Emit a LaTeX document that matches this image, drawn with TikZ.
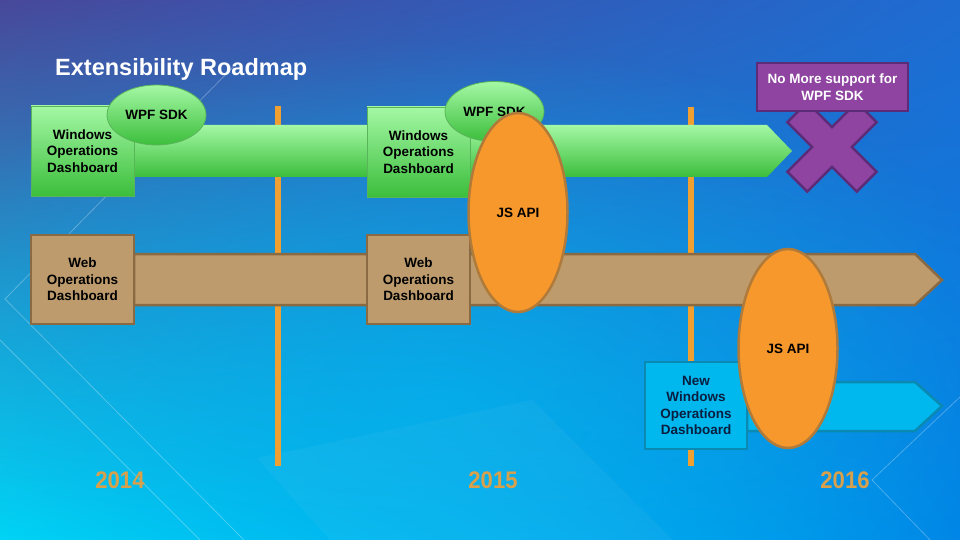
\documentclass[tikz,border=0pt]{standalone}
\usepackage{fontspec}
\setmainfont{Liberation Sans}
\usetikzlibrary{shapes.geometric,shadings,fadings}
\tikzfading[name=myglow, inner color=transparent!0, outer color=transparent!100]
\definecolor{bgUL}{HTML}{48489A}
\definecolor{bgUR}{HTML}{1E6CD2}
\definecolor{bgLL}{HTML}{00D8F6}
\definecolor{bgLR}{HTML}{0084E6}
\definecolor{glow}{HTML}{00B8F0}
\definecolor{gTop}{HTML}{A4F8A4}
\definecolor{gBot}{HTML}{3CBE3C}
\definecolor{gLine}{HTML}{5AB45A}
\definecolor{tanF}{HTML}{BD9B6D}
\definecolor{tanB}{HTML}{8A6A42}
\definecolor{orF}{HTML}{F7982C}
\definecolor{orB}{HTML}{B07A3A}
\definecolor{cyF}{HTML}{00B8EE}
\definecolor{cyB}{HTML}{0A8AB2}
\definecolor{puF}{HTML}{8E44A0}
\definecolor{puB}{HTML}{5C2C78}
\definecolor{yearC}{HTML}{D9A04C}
\definecolor{vline}{HTML}{F0A030}
\definecolor{navy}{HTML}{0A1E40}
\begin{document}
\begin{tikzpicture}[x=1pt,y=-1pt,
  txt/.style={font=\fontsize{13.5}{16.6}\selectfont\bfseries, align=center, inner sep=0pt},
  gbox/.style={txt, draw=gLine, line width=0.8pt, top color=gTop, bottom color=gBot, minimum width=103pt, minimum height=90pt, text=black},
  tbox/.style={txt, draw=tanB, line width=2.5pt, fill=tanF, minimum width=103pt, minimum height=89pt, text=black},
  cbox/.style={txt, draw=cyB, line width=2.5pt, fill=cyF, minimum width=102pt, minimum height=87pt, text=navy},
  pbox/.style={txt, draw=puB, line width=2.5pt, fill=puF, minimum width=151pt, minimum height=48pt, text=white},
  wpf/.style={txt, ellipse, draw=gLine, line width=0.8pt, top color=gTop, bottom color=gBot, minimum width=99pt, minimum height=60pt, text=black},
  js/.style={txt, ellipse, draw=orB, line width=2.5pt, fill=orF, minimum width=99pt, minimum height=199pt, text=black},
  year/.style={font=\fontsize{24}{28}\selectfont\bfseries, text=yearC, inner sep=0pt, xscale=0.92},
  marker/.style={draw=vline, line width=6pt},
  deco/.style={draw=white, draw opacity=0.28, line width=0.8pt}
]
\useasboundingbox (0,0) rectangle (960,540);
\shade[upper left=bgUL, upper right=bgUR, lower left=bgLL, lower right=bgLR] (0,0) rectangle (960,540);
\fill[glow, path fading=myglow, opacity=0.6] (440,400) ellipse (620 and 360);
\fill[white, opacity=0.04] (257,458) -- (532,400) -- (673,540) -- (330,540) -- cycle;
% decorative lines
\draw[deco] (235,65) -- (5,299) -- (244,540);
\draw[deco] (0,340) -- (200,540);
\draw[deco] (960,397) -- (872,480) -- (930,540);
% timeline markers
\coordinate (m1a) at (278,106);
\coordinate (m1b) at (278,466);
\coordinate (m2a) at (691,107);
\coordinate (m2b) at (691,466);
\draw[marker] (m1a) -- (m1b);
\draw[marker] (m2a) -- (m2b);
% bars
\shade[top color=gTop, bottom color=gBot] (134,125) -- (767,125) -- (792,151) -- (767,177) -- (134,177) -- cycle;
\filldraw[fill=tanF, draw=tanB, line width=2.5pt] (134,254) -- (915,254) -- (942,280) -- (915,305) -- (134,305) -- cycle;
\filldraw[fill=cyF, draw=cyB, line width=2.5pt] (747,382) -- (915,382) -- (942,406) -- (915,431) -- (747,431) -- cycle;
% boxes
\node[gbox] (wod1) at (82.5,151) {Windows\\Operations\\Dashboard};
\node[gbox] (wod2) at (418.5,152) {Windows\\Operations\\Dashboard};
\node[tbox] (web1) at (82.5,279.5) {Web\\Operations\\Dashboard};
\node[tbox] (web2) at (418.5,279.5) {Web\\Operations\\Dashboard};
\node[cbox] (new) at (696,405.5) {New\\Windows\\Operations\\Dashboard};
% ellipses
\node[wpf] (wpf1) at (156.5,115) {WPF SDK};
\node[wpf] (wpf2) at (494.5,111.5) {WPF SDK};
\node[js] (js1) at (518,212.5) {JS API};
\node[js] (js2) at (788,348.5) {JS API};
% cross
\begin{scope}[shift={(832,147)}, rotate=45]
\filldraw[fill=puF, draw=puB, line width=2.5pt]
  (-14,-49) -- (14,-49) -- (14,-14) -- (49,-14) -- (49,14) -- (14,14) -- (14,49) -- (-14,49) -- (-14,14) -- (-49,14) -- (-49,-14) -- (-14,-14) -- cycle;
\end{scope}
\node[pbox] (nomore) at (832.5,87) {No More support for\\WPF SDK};
% title and years
\node[anchor=west, inner sep=0pt, text=white, font=\fontsize{23.5}{28}\selectfont\bfseries] (title) at (55,69) {Extensibility Roadmap};
\node[year] (y2014) at (120,480) {2014};
\node[year] (y2015) at (493,480) {2015};
\node[year] (y2016) at (845,480) {2016};
\end{tikzpicture}
\end{document}
